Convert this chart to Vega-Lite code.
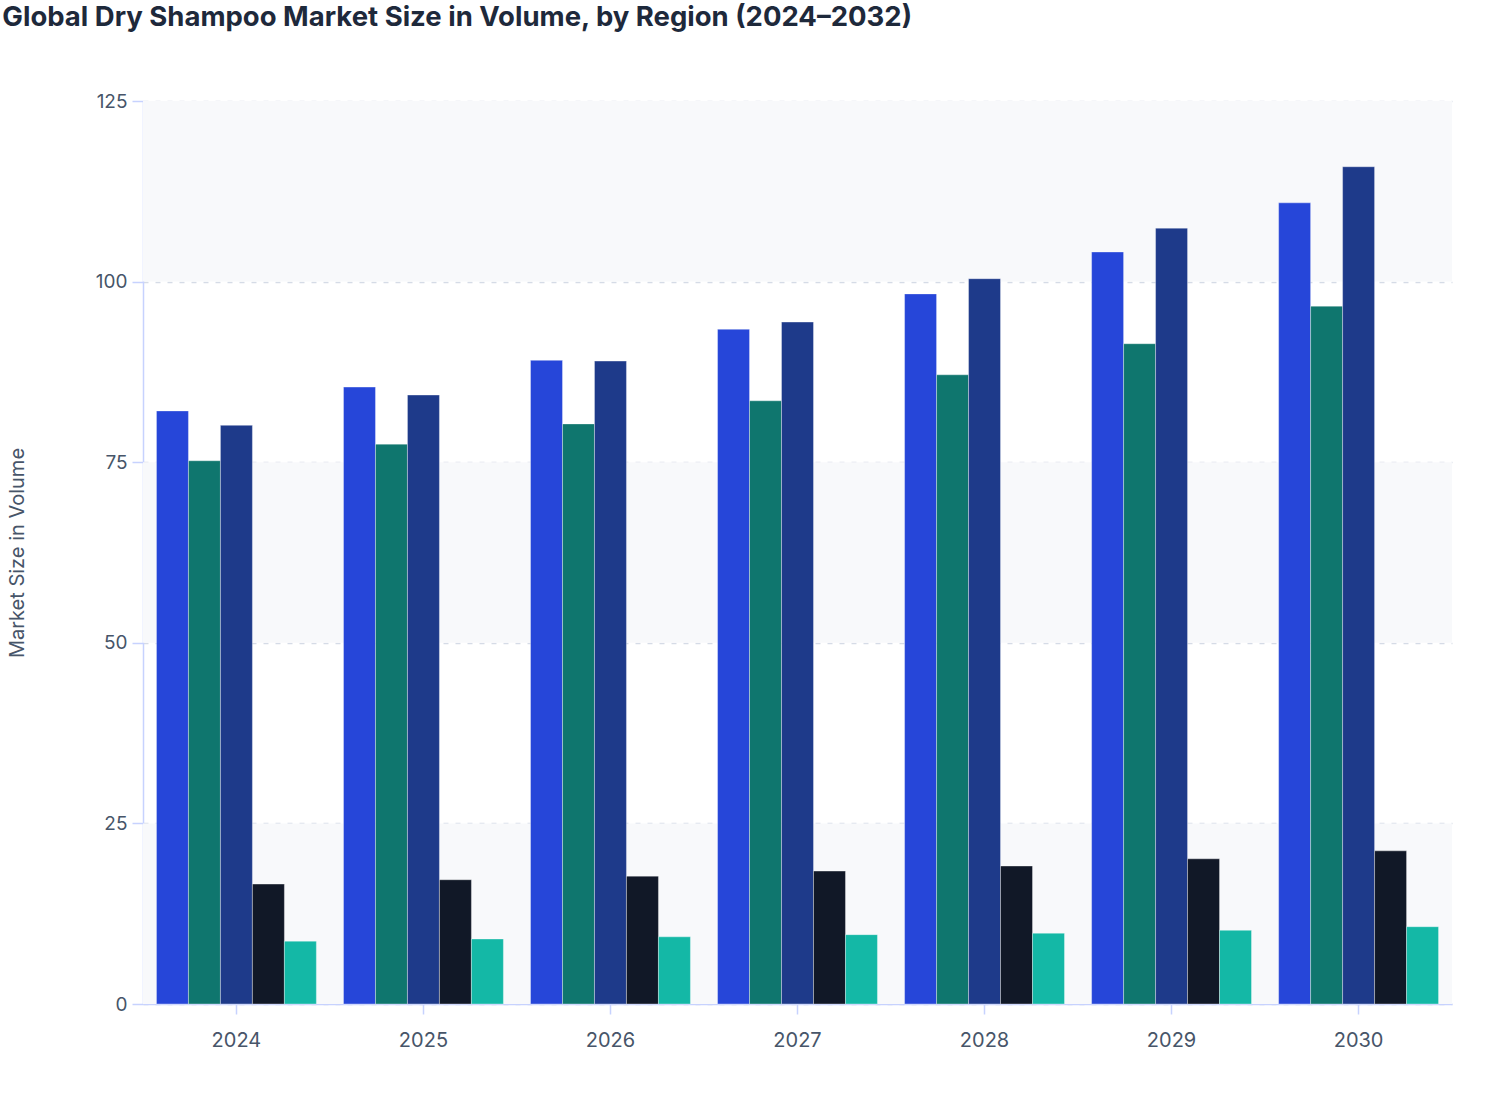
{
  "$schema": "https://vega.github.io/schema/vega-lite/v6.json",
  "autosize": {"type": "fit", "contains": "padding"},
  "width": 1508,
  "height": 1120,
  "padding": {"top": 3, "left": 2, "right": 56, "bottom": 70},
  "background": "white",
  "title": {
    "text": "Global Dry Shampoo Market Size in Volume, by Region (2024–2032)",
    "anchor": "start",
    "frame": "bounds",
    "font": "Inter",
    "fontSize": 27.5,
    "fontWeight": 700,
    "color": "#1e293b",
    "offset": 61,
    "dx": -5
  },
  "datasets": {
    "bands": [
      {"lo": 0, "hi": 25, "shade": "a"},
      {"lo": 50, "hi": 75, "shade": "a"},
      {"lo": 100, "hi": 125, "shade": "a"}
    ],
    "sizes": [
      {"year": "2024", "region": "North America", "volume": 82.1},
      {"year": "2024", "region": "Europe", "volume": 75.2},
      {"year": "2024", "region": "Asia Pacific", "volume": 80.1},
      {"year": "2024", "region": "Latin America", "volume": 16.6},
      {"year": "2024", "region": "Middle East & Africa", "volume": 8.7},
      {"year": "2025", "region": "North America", "volume": 85.4},
      {"year": "2025", "region": "Europe", "volume": 77.5},
      {"year": "2025", "region": "Asia Pacific", "volume": 84.3},
      {"year": "2025", "region": "Latin America", "volume": 17.2},
      {"year": "2025", "region": "Middle East & Africa", "volume": 9.0},
      {"year": "2026", "region": "North America", "volume": 89.1},
      {"year": "2026", "region": "Europe", "volume": 80.3},
      {"year": "2026", "region": "Asia Pacific", "volume": 89.0},
      {"year": "2026", "region": "Latin America", "volume": 17.7},
      {"year": "2026", "region": "Middle East & Africa", "volume": 9.3},
      {"year": "2027", "region": "North America", "volume": 93.4},
      {"year": "2027", "region": "Europe", "volume": 83.5},
      {"year": "2027", "region": "Asia Pacific", "volume": 94.4},
      {"year": "2027", "region": "Latin America", "volume": 18.4},
      {"year": "2027", "region": "Middle East & Africa", "volume": 9.6},
      {"year": "2028", "region": "North America", "volume": 98.3},
      {"year": "2028", "region": "Europe", "volume": 87.1},
      {"year": "2028", "region": "Asia Pacific", "volume": 100.4},
      {"year": "2028", "region": "Latin America", "volume": 19.1},
      {"year": "2028", "region": "Middle East & Africa", "volume": 9.8},
      {"year": "2029", "region": "North America", "volume": 104.1},
      {"year": "2029", "region": "Europe", "volume": 91.4},
      {"year": "2029", "region": "Asia Pacific", "volume": 107.4},
      {"year": "2029", "region": "Latin America", "volume": 20.1},
      {"year": "2029", "region": "Middle East & Africa", "volume": 10.2},
      {"year": "2030", "region": "North America", "volume": 110.9},
      {"year": "2030", "region": "Europe", "volume": 96.6},
      {"year": "2030", "region": "Asia Pacific", "volume": 115.9},
      {"year": "2030", "region": "Latin America", "volume": 21.2},
      {"year": "2030", "region": "Middle East & Africa", "volume": 10.7}
    ]
  },
  "config": {
    "view": {"stroke": null},
    "font": "Inter",
    "axis": {
      "labelFont": "Inter",
      "labelFontSize": 19,
      "labelColor": "#475569",
      "titleFont": "Inter",
      "titleFontSize": 20,
      "titleFontWeight": 400,
      "titleColor": "#475569",
      "domainColor": "#c7d2fe",
      "domainWidth": 1.5,
      "tickColor": "#c7d2fe",
      "tickWidth": 1.5
    }
  },
  "layer": [
    {
      "data": {"name": "bands"},
      "mark": {"type": "rect", "color": "#f8f9fb"},
      "encoding": {
        "y": {"field": "lo", "type": "quantitative", "scale": {"domain": [0, 125]}},
        "y2": {"field": "hi"}
      }
    },
    {
      "data": {"name": "sizes"},
      "mark": {"type": "bar", "stroke": "white", "strokeOpacity": 0.35, "strokeWidth": 1},
      "encoding": {
        "x": {
          "field": "year",
          "type": "nominal",
          "title": null,
          "scale": {"paddingInner": 0.145, "paddingOuter": 0.072},
          "axis": {"labelAngle": 0, "tickSize": 10, "labelPadding": 16, "labelFontSize": 20, "grid": false}
        },
        "xOffset": {
          "field": "region",
          "type": "nominal",
          "sort": ["North America", "Europe", "Asia Pacific", "Latin America", "Middle East & Africa"]
        },
        "y": {
          "field": "volume",
          "type": "quantitative",
          "title": "Market Size in Volume",
          "scale": {"domain": [0, 125]},
          "axis": {
            "values": [0, 25, 50, 75, 100, 125],
            "tickSize": 11,
            "labelPadding": 5,
            "titlePadding": 68,
            "grid": true,
            "gridColor": "#d5dbe6",
            "gridDash": [5, 7],
            "gridWidth": 1.5
          }
        },
        "color": {
          "field": "region",
          "type": "nominal",
          "legend": null,
          "sort": ["North America", "Europe", "Asia Pacific", "Latin America", "Middle East & Africa"],
          "scale": {
            "domain": ["North America", "Europe", "Asia Pacific", "Latin America", "Middle East & Africa"],
            "range": ["#2646d9", "#0f766e", "#1e3a8a", "#111827", "#14b8a6"]
          }
        }
      }
    }
  ]
}
